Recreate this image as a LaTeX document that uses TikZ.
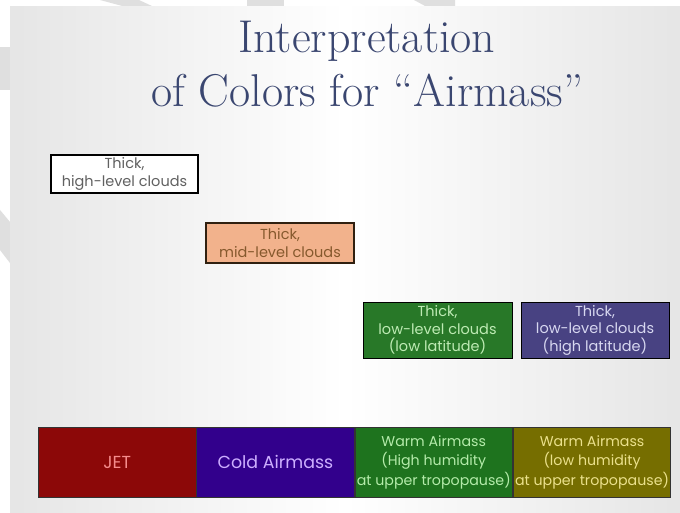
\documentclass[tikz,border=0pt]{standalone}
\usepackage{fontspec}
\newfontfamily\boxfont{Poppins}
\usetikzlibrary{positioning}
\definecolor{titleblue}{RGB}{58,70,112}
\definecolor{jetred}{RGB}{140,8,8}
\definecolor{coldblue}{RGB}{50,0,140}
\definecolor{warmgreen}{RGB}{30,115,30}
\definecolor{warmolive}{RGB}{118,110,0}
\definecolor{midpeach}{RGB}{242,178,140}
\definecolor{lowgreen}{RGB}{40,120,40}
\definecolor{lowpurple}{RGB}{72,66,130}
\tikzset{
  cloudbox/.style={draw=black,line width=1.3pt,align=center,inner sep=0pt,
    minimum width=147pt,font=\boxfont\fontsize{14.5}{17.5}\selectfont},
  barbox/.style={draw=black!80,line width=0.8pt,align=center,inner sep=0pt,
    minimum width=157.5pt,minimum height=70pt,font=\boxfont\fontsize{14.2}{19.5}\selectfont},
  bigtext/.style={font=\boxfont\fontsize{17.4}{20}\selectfont},
  mark shape/.style={fill=gray!25,draw=none},
  title line/.style={font=\fontsize{46}{52}\selectfont,text=titleblue,anchor=base,inner sep=0pt}
}
\begin{document}
\begin{tikzpicture}[x=1pt,y=-1pt]
    \useasboundingbox (0,0) rectangle (680,513);
    % watermark shapes in the margin
    \fill[white] (0,0) rectangle (680,513);
    \fill[mark shape] (100,0) -- (139,0) -- (154,7) -- (126,7) -- cycle;
    \fill[mark shape] (247,0) -- (284,0) -- (284,7) -- (247,7) -- cycle;
    \fill[mark shape] (414,0) -- (455,0) -- (455,7) -- (427,7) -- cycle;
    \fill[mark shape] (0,47) rectangle (10,90);
    \fill[mark shape] (0,210) -- (10,222) -- (10,263) -- (0,250) -- cycle;
    % slide background
    \shade[left color=gray!20,right color=gray!20,middle color=white] (10,7) rectangle (680,513);
    \node[title line] (title) at (367,53) {Interpretation};
    \node[title line] (subtitle) at (367,107) {of Colors for ``Airmass''};
    \node[cloudbox,fill=white,text=black!62,minimum height=38pt] (high) at (124.5,174)
        {Thick,\\high-level clouds};
    \node[cloudbox,fill=midpeach,draw=black!75!brown,text=brown!70!black,minimum height=40pt,minimum width=148pt] (mid) at (280,243)
        {Thick,\\mid-level clouds};
    \node[cloudbox,fill=lowgreen,line width=0.8pt,text={rgb,255:red,190;green,235;blue,180},minimum height=56pt,minimum width=149pt] (lowlat) at (437.5,330)
        {Thick,\\low-level clouds\\(low latitude)};
    \node[cloudbox,fill=lowpurple,line width=0.8pt,text={rgb,255:red,215;green,215;blue,240},minimum height=56pt,minimum width=148pt] (highlat) at (595,330)
        {Thick,\\low-level clouds\\(high latitude)};
    % bottom bar
    \node[barbox,bigtext,fill=jetred,text={rgb,255:red,245;green,140;blue,140},anchor=west] (jet) at (38,462) {JET};
    \node[barbox,bigtext,fill=coldblue,text={rgb,255:red,205;green,175;blue,255},right=0pt of jet] (cold) {Cold Airmass};
    \node[barbox,fill=warmgreen,text={rgb,255:red,180;green,235;blue,170},right=0pt of cold] (warmhigh)
        {Warm Airmass\\(High humidity\\at upper tropopause)};
    \node[barbox,fill=warmolive,text={rgb,255:red,235;green,225;blue,140},right=0pt of warmhigh] (warmlow)
        {Warm Airmass\\(low humidity\\at upper tropopause)};
\end{tikzpicture}
\end{document}
